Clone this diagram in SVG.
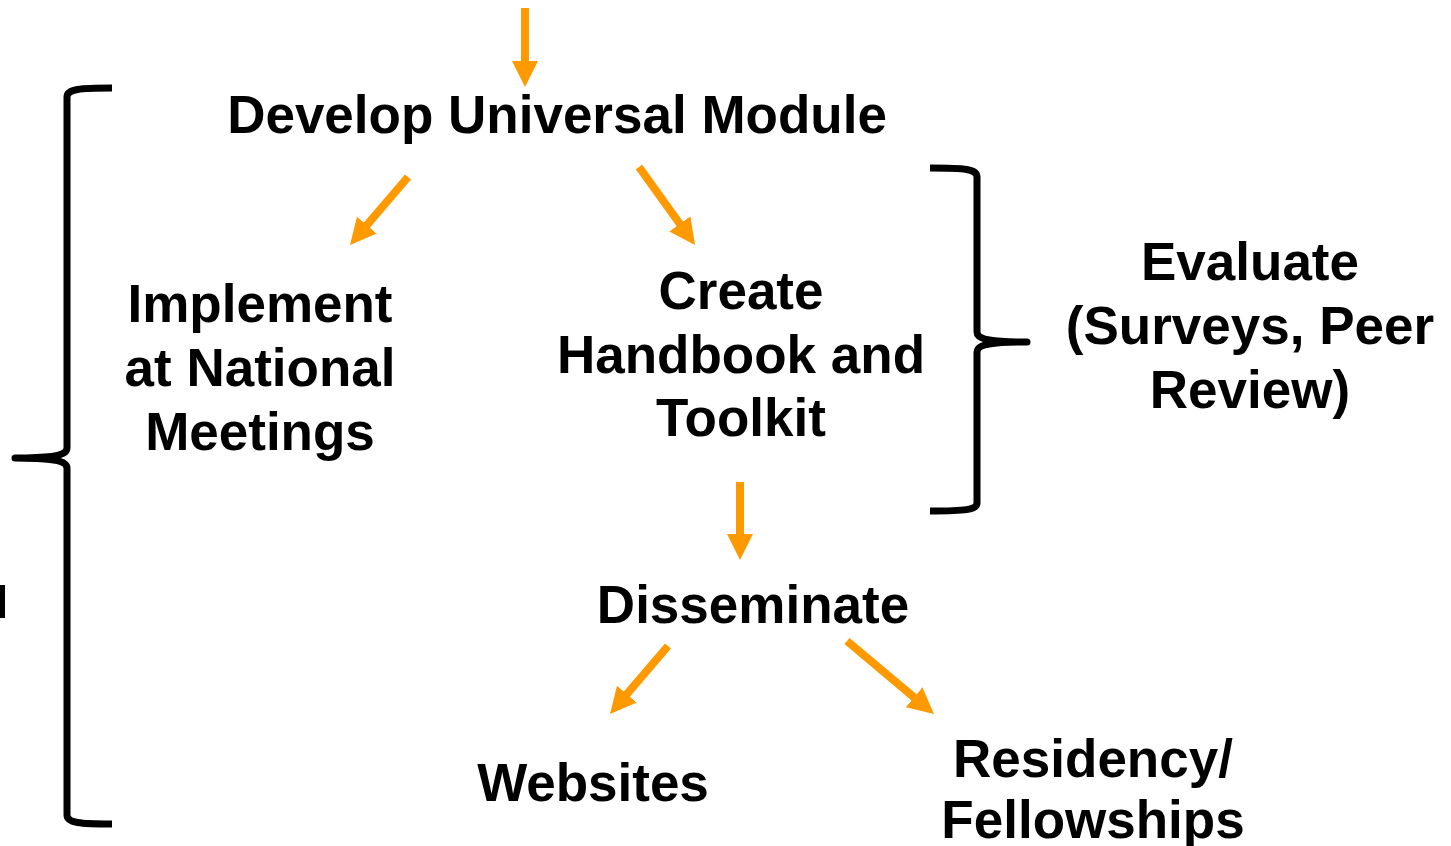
<svg xmlns="http://www.w3.org/2000/svg" width="1451" height="846" viewBox="0 0 1451 846">
  <defs>
    <!-- head starts at the line end and extends 26px beyond it -->
    <marker id="head" markerUnits="userSpaceOnUse" markerWidth="26" markerHeight="26" viewBox="0 0 26 26" refX="2" refY="13" orient="auto">
      <path d="M0,0 L26,13 L0,26 Z" fill="#FF9900"/>
    </marker>
  </defs>
  <style>
    .lbl { font-family: "Liberation Sans", Arial, sans-serif; font-weight: bold; font-size: 53px; fill: #000; text-anchor: middle; }
    .arrow { stroke: #FF9900; stroke-width: 8; fill: none; marker-end: url(#head); }
    .brace { stroke: #000; stroke-width: 7; fill: none; stroke-linejoin: round; }
  </style>
  <rect width="1451" height="846" fill="#fff"/>

  <g id="connectors">
    <line class="arrow" x1="525" y1="8" x2="525" y2="63"/>
    <line class="arrow" x1="408" y1="177" x2="365.6" y2="226.7"/>
    <line class="arrow" x1="639" y1="167" x2="681" y2="225.5"/>
    <line class="arrow" x1="740" y1="482" x2="740" y2="536"/>
    <line class="arrow" x1="668" y1="646" x2="625.6" y2="695.7"/>
    <line class="arrow" x1="847" y1="641" x2="915.6" y2="698.6"/>
  </g>

  <g id="brace-left">
    <path class="brace" d="M112,88 C80,88 67,89 67,97 L67,448 C67,455 55,458 15,458 C55,458 67,461 67,468 L67,815 C67,823 80,824 112,824"/>
    <rect x="0" y="585" width="5" height="33" fill="#000"/>
  </g>
  <g id="brace-right">
    <path class="brace" d="M930,168 C965,168 977,169 977,177 L977,332 C977,338 985,342 1027,342 C985,342 977,346 977,352 L977,503 C977,510 965,511 930,511"/>
  </g>

  <g id="develop"><text class="lbl" x="557" y="133">Develop Universal Module</text></g>
  <g id="implement">
    <text class="lbl" x="260" y="322">Implement</text>
    <text class="lbl" x="260" y="386">at National</text>
    <text class="lbl" x="260" y="450">Meetings</text>
  </g>
  <g id="handbook">
    <text class="lbl" x="741" y="309">Create</text>
    <text class="lbl" x="741" y="373">Handbook and</text>
    <text class="lbl" x="741" y="436">Toolkit</text>
  </g>
  <g id="evaluate">
    <text class="lbl" x="1250" y="280">Evaluate</text>
    <text class="lbl" x="1250" y="344">(Surveys, Peer</text>
    <text class="lbl" x="1250" y="408">Review)</text>
  </g>
  <g id="disseminate"><text class="lbl" x="753" y="623">Disseminate</text></g>
  <g id="websites"><text class="lbl" x="593" y="801">Websites</text></g>
  <g id="residency">
    <text class="lbl" x="1093" y="777">Residency/</text>
    <text class="lbl" x="1093" y="838">Fellowships</text>
  </g>
</svg>
